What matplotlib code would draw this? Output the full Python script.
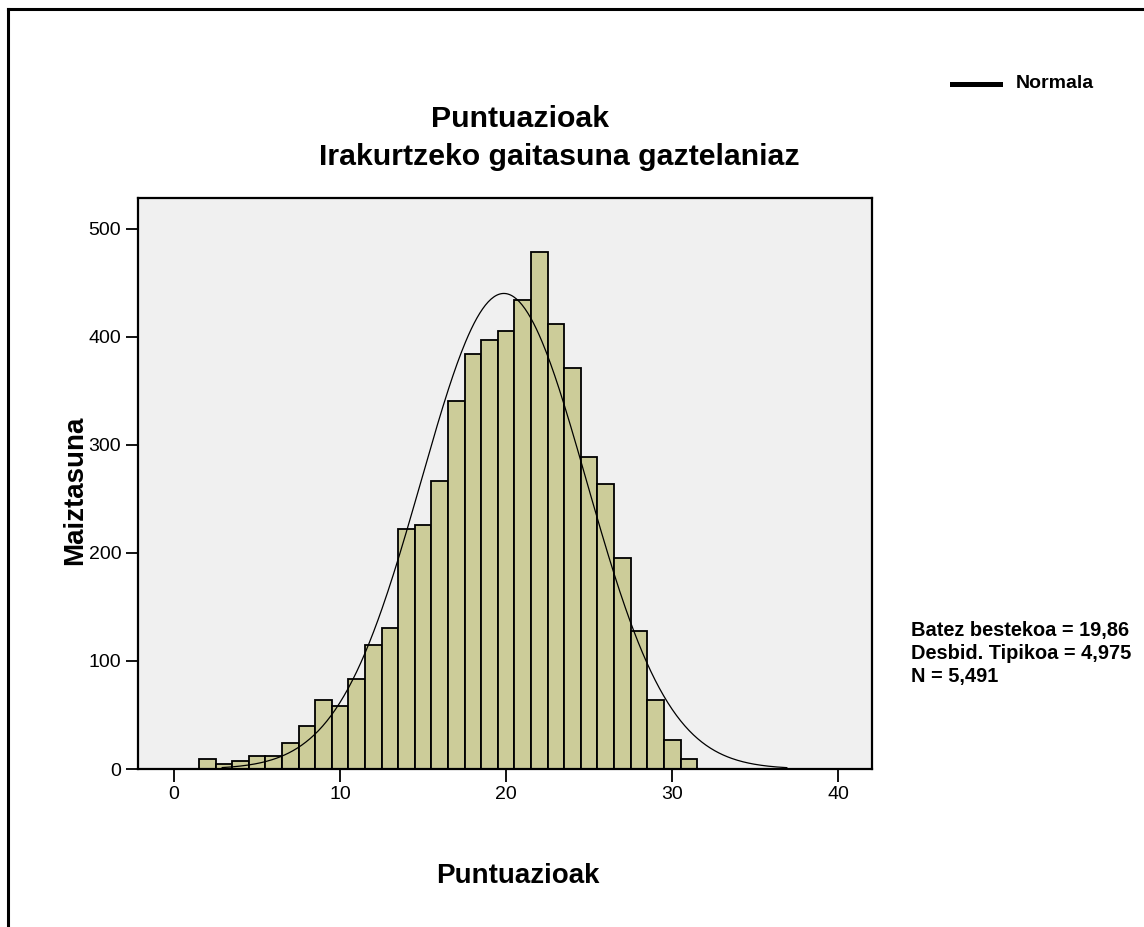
import numpy as np
import matplotlib
matplotlib.use("Agg")
import matplotlib.pyplot as plt
from matplotlib.lines import Line2D

plt.rcParams['font.family'] = ['Liberation Sans', 'DejaVu Sans']

# histogram data (score -> frequency)
scores = [2, 3, 4, 5, 6, 7, 8, 9, 10, 11, 12, 13, 14, 15, 16,
          17, 18, 19, 20, 21, 22, 23, 24, 25, 26, 27, 28, 29, 30, 31]
counts = [9, 5, 7, 12, 12, 24, 40, 64, 58, 83, 115, 131, 222, 226, 267,
          341, 384, 397, 406, 434, 479, 412, 371, 289, 264, 195, 128, 64, 27, 9]

# summary stats shown on the chart
mean = 19.86
std = 4.975
n = 5491
curve_from = 2.9
curve_to = 36.9

W, H = 1144, 927
fig = plt.figure(figsize=(W / 100, H / 100), dpi=100)
fig.patch.set_facecolor('white')

ax = fig.add_axes([138 / W, 1 - 769 / H, (872 - 138) / W, (769 - 198) / H])
ax.set_facecolor('#F0F0F0')

ax.bar(scores, counts, width=1.0, color='#CCCC99', edgecolor='black',
       linewidth=1.3, zorder=2)

# normal curve from the stats (bin width 1)
xs = np.linspace(curve_from, curve_to, 400)
ys = n * np.exp(-0.5 * ((xs - mean) / std) ** 2) / (std * np.sqrt(2 * np.pi))
ax.plot(xs, ys, color='black', linewidth=0.9, zorder=3)

ax.set_xlim(-2.17, 42.03)
ax.set_ylim(0, 528.7)
ax.set_xticks([0, 10, 20, 30, 40])
ax.set_yticks([0, 100, 200, 300, 400, 500])
ax.tick_params(axis='both', direction='out', length=9, width=1.3,
               labelsize=14, pad=3, colors='black')
for s in ax.spines.values():
    s.set_linewidth(1.6)
    s.set_color('black')

# titles and axis labels
fig.text(520 / W, 1 - 126.7 / H, 'Puntuazioak', ha='center', va='baseline',
         fontsize=21.8, fontweight='bold')
fig.text(800 / W, 1 - 165 / H, 'Irakurtzeko gaitasuna gaztelaniaz',
         ha='right', va='baseline', fontsize=21.8, fontweight='bold')
fig.text(518 / W, 1 - 883 / H, 'Puntuazioak', ha='center', va='baseline',
         fontsize=20, fontweight='bold')
fig.text(75 / W, 1 - 490 / H, 'Maiztasuna', ha='center', va='center',
         rotation=90, fontsize=20, fontweight='bold')

# legend
fig.add_artist(Line2D([952 / W, 1000 / W], [1 - 84 / H, 1 - 84 / H],
                      color='black', linewidth=3.6))
fig.text(1016 / W, 1 - 84 / H, 'Normala', ha='left', va='center',
         fontsize=14, fontweight='bold')

# stats box
stats = ['Batez bestekoa = 19,86', 'Desbid. Tipikoa = 4,975', 'N = 5,491']
for i, line in enumerate(stats):
    fig.text(911 / W, 1 - (630.7 + 23 * i) / H, line, ha='left', va='center',
             fontsize=14.4, fontweight='bold')

# outer frame (top and left edges visible)
fig.add_artist(Line2D([7.5 / W, 7.5 / W], [1 - 9 / H, 0], color='black', linewidth=2.2))
fig.add_artist(Line2D([7.5 / W, 1], [1 - 9 / H, 1 - 9 / H], color='black', linewidth=2.2))

fig.savefig('out.png', dpi=100)
